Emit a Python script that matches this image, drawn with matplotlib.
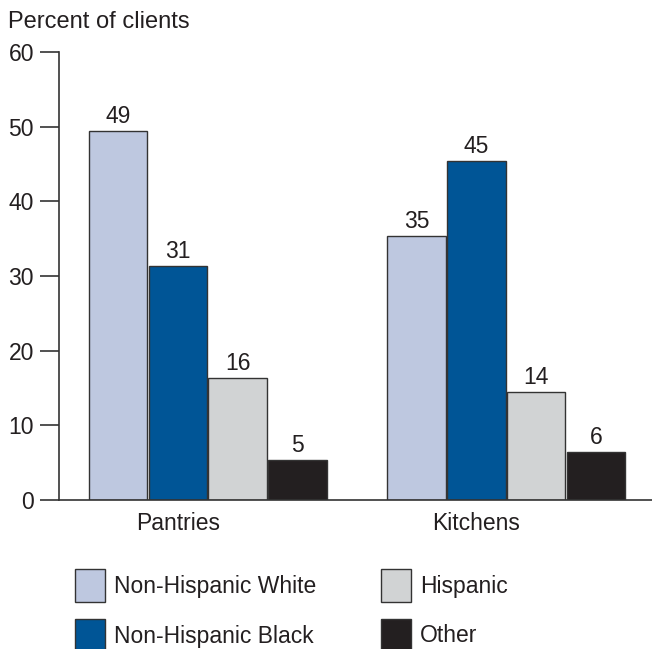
import numpy as np
import matplotlib.pyplot as plt
from matplotlib.patches import Rectangle

plt.rcParams['font.family'] = ['Liberation Sans', 'DejaVu Sans']

groups = ['Pantries', 'Kitchens']
series = ['Non-Hispanic White', 'Non-Hispanic Black', 'Hispanic', 'Other']
colors = ['#BEC8E0', '#005596', '#D1D3D4', '#231F20']
values = {
    'Non-Hispanic White': [49.4, 35.4],
    'Non-Hispanic Black': [31.4, 45.4],
    'Hispanic': [16.4, 14.4],
    'Other': [5.4, 6.4],
}
labels = {
    'Non-Hispanic White': ['49', '35'],
    'Non-Hispanic Black': ['31', '45'],
    'Hispanic': ['16', '14'],
    'Other': ['5', '6'],
}
yticks = [0, 10, 20, 30, 40, 50, 60]

fig = plt.figure(figsize=(6.52, 6.49), dpi=100)
W, H = 652, 649
ax = fig.add_axes([59 / W, 1 - 500 / H, (652 - 59) / W, (500 - 52) / H])

group_x = np.array([0, 5])
fs = 16.5
for i, s in enumerate(series):
    x = group_x + i
    bars = ax.bar(x, values[s], width=0.98, color=colors[i],
                  edgecolor='#333333', linewidth=1.0)
    for b, t in zip(bars, labels[s]):
        ax.text(b.get_x() + b.get_width() / 2, b.get_height() + 0.4, t,
                ha='center', va='bottom', fontsize=fs, color='#231F20')

ax.set_xlim(-0.99, 8.94)
ax.set_ylim(0, 60)
ax.set_yticks(yticks)
ax.set_xticks(group_x + 1)
ax.set_xticklabels(groups)
ax.tick_params(axis='y', direction='out', length=14, width=1.2,
               color='#333333', labelsize=fs, pad=4, labelcolor='#231F20')
ax.tick_params(axis='x', length=0, labelsize=fs, pad=9, labelcolor='#231F20')
for sp in ['top', 'right']:
    ax.spines[sp].set_visible(False)
for sp in ['left', 'bottom']:
    ax.spines[sp].set_color('#333333')
    ax.spines[sp].set_linewidth(1.2)

fig.text(8 / W, 1 - 22 / H, 'Percent of clients', fontsize=17,
         va='center', ha='left', color='#231F20')

# legend, two columns
leg_pos = [(75, 569), (75, 619), (381, 569), (381, 619)]
leg_order = [0, 1, 2, 3]
for i in leg_order:
    px, py = leg_pos[i]
    fig.patches.append(Rectangle((px / W, 1 - (py + 33) / H), 30 / W, 33 / H,
                                 transform=fig.transFigure, facecolor=colors[i],
                                 edgecolor='#333333', linewidth=1.0))
    fig.text((px + 39) / W, 1 - (py + 17) / H, series[i], fontsize=fs,
             va='center', ha='left', color='#231F20')

fig.savefig('out.png', dpi=100)
